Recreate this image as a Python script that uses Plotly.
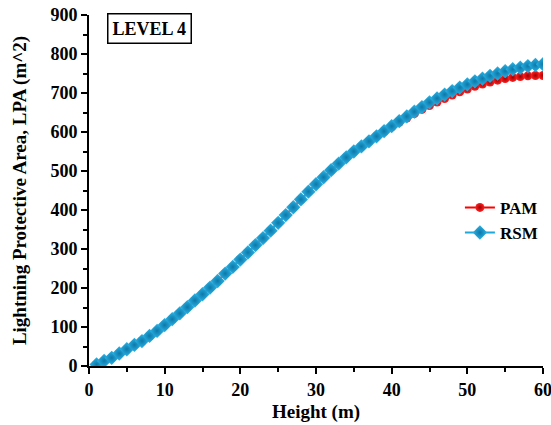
import plotly.graph_objects as go

height_m = list(range(1, 61))

pam_lpa = [4, 13, 21, 32, 43, 54, 64, 77, 90, 105,
           120, 135, 151, 168, 184, 201, 218, 237, 254, 273,
           291, 310, 328, 347, 367, 387, 407, 427, 447, 466,
           484, 502, 519, 535, 550, 563, 576, 589, 601, 613,
           625, 636, 647, 658, 668, 677, 686, 695, 703, 710,
           717, 723, 728, 733, 737, 740, 742, 744, 745, 745]

rsm_lpa = [4, 13, 21, 32, 43, 54, 64, 77, 90, 105,
           120, 135, 151, 168, 184, 201, 218, 237, 254, 273,
           291, 310, 328, 347, 367, 387, 407, 427, 447, 466,
           484, 502, 519, 535, 550, 563, 576, 589, 602, 615,
           628, 640, 652, 664, 676, 686, 696, 705, 714, 722,
           730, 737, 744, 750, 756, 761, 765, 769, 772, 774]

x_ticks = [0, 10, 20, 30, 40, 50, 60]
y_ticks = [0, 100, 200, 300, 400, 500, 600, 700, 800, 900]

FONT = "Liberation Serif"

fig = go.Figure()
fig.add_trace(go.Scatter(
    x=height_m, y=pam_lpa, name="<b>PAM</b>", mode="lines+markers",
    line=dict(color="#ff0000", width=2),
    marker=dict(symbol="circle", size=9, color="#ff2020",
                gradient=dict(type="radial", color="#a00000"),
                line=dict(width=0)),
))
fig.add_trace(go.Scatter(
    x=height_m, y=rsm_lpa, name="<b>RSM</b>", mode="lines+markers",
    line=dict(color="#1fa8dc", width=2),
    marker=dict(symbol="diamond", size=11, color="#2bb3e6",
                gradient=dict(type="radial", color="#0d78a8"),
                line=dict(width=0)),
))

fig.add_annotation(
    x=0.134, y=0.9615, xref="paper", yref="paper",
    xanchor="center", yanchor="middle",
    text="<b>LEVEL 4</b>", showarrow=False,
    font=dict(family=FONT, size=18, color="black"),
    bordercolor="black", borderwidth=1.5, borderpad=4, bgcolor="white",
)

fig.update_layout(
    width=551, height=425,
    margin=dict(l=89, r=8, t=15, b=59, autoexpand=False),
    paper_bgcolor="white", plot_bgcolor="white",
    font=dict(family=FONT, color="black"),
    showlegend=True,
    legend=dict(x=0.817, y=0.415, xanchor="left", yanchor="middle",
                font=dict(family=FONT, size=17, color="black"),
                bgcolor="rgba(0,0,0,0)", itemwidth=30, tracegroupgap=0),
    xaxis=dict(
        range=[0, 60], tickvals=x_ticks, ticktext=[f"<b>{v}</b>" for v in x_ticks],
        showgrid=False, zeroline=False, automargin=False,
        showline=True, linecolor="black", linewidth=2,
        ticks="outside", ticklen=6, tickwidth=2, tickcolor="black",
        ticklabeloverflow="allow",
        minor=dict(dtick=5, tick0=0, ticks="outside", ticklen=4, tickwidth=2, tickcolor="black"),
        tickfont=dict(family=FONT, size=18, color="black"),
        title=dict(text="<b>Height (m)</b>", font=dict(family=FONT, size=19, color="black"), standoff=6),
    ),
    yaxis=dict(
        range=[0, 900], tickvals=y_ticks, ticktext=[f"<b>{v}</b>" for v in y_ticks],
        showgrid=False, zeroline=False, automargin=False,
        showline=True, linecolor="black", linewidth=2,
        ticks="outside", ticklen=6, tickwidth=2, tickcolor="black",
        ticklabeloverflow="allow",
        minor=dict(dtick=50, tick0=0, ticks="outside", ticklen=4, tickwidth=2, tickcolor="black"),
        tickfont=dict(family=FONT, size=18, color="black"),
        title=dict(text="<b>Lightning Protective Area, LPA (m^2)</b>",
                   font=dict(family=FONT, size=19, color="black"), standoff=19),
    ),
)

fig.write_html(
    "out.html",
    config={"displayModeBar": False},
    post_script="document.body.style.margin='0';document.body.style.overflow='hidden';",
)
